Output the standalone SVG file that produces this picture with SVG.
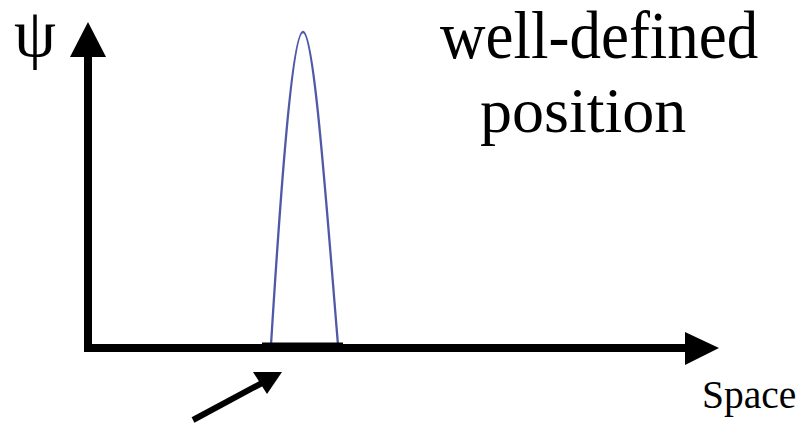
<svg xmlns="http://www.w3.org/2000/svg" width="805" height="424" viewBox="0 0 805 424">
<style>
.t{font-family:"Liberation Serif","Times New Roman",serif;fill:#000}
.ax{fill:#000}
</style>
<rect width="805" height="424" fill="#fff"/>
<g id="curve">
<path d="M271,345 C280,200 292,32 303,32 C314,32 326,200 338,345" fill="none" stroke="#5058a8" stroke-width="2.3"/>
</g>
<g id="axes">
<rect class="ax" x="84" y="55" width="8" height="297"/>
<polygon class="ax" points="88,22 70,57 106,57"/>
<rect class="ax" x="84" y="344" width="603" height="8"/>
<polygon class="ax" points="719,348 685,332 685,365"/>
<rect class="ax" x="262" y="342.5" width="81" height="4"/>
</g>
<g id="pointer">
<line x1="193" y1="420" x2="262" y2="383" stroke="#000" stroke-width="6"/>
<polygon class="ax" points="282,372 253,372 267,394"/>
</g>
<g id="labels">
<text class="t" x="14" y="56" font-size="67">ψ</text>
<text class="t" transform="translate(440,58) scale(1,1.07)" font-size="63">well-defined</text>
<text class="t" x="480" y="132" font-size="64">position</text>
<text class="t" x="702" y="408" font-size="39.5">Space</text>
</g>
</svg>
